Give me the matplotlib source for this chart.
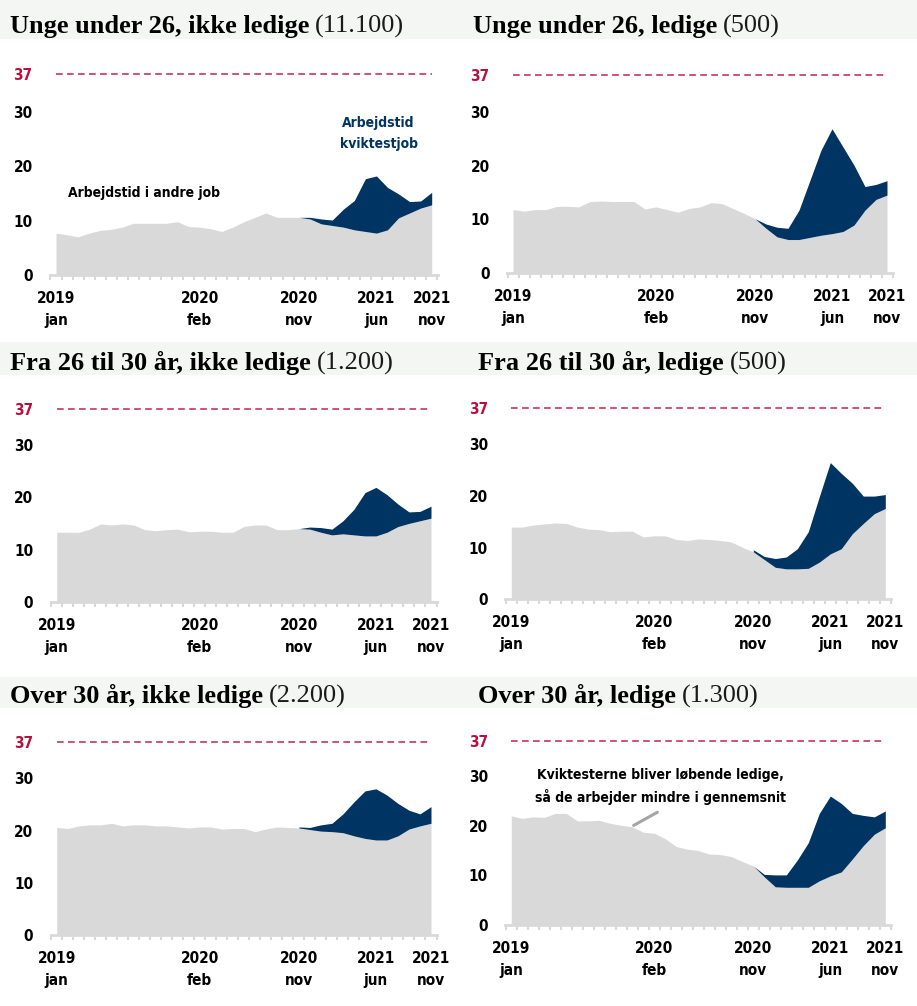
import matplotlib
matplotlib.use("Agg")
import matplotlib.pyplot as plt
import numpy as np
from matplotlib import font_manager as fm
from matplotlib.font_manager import FontProperties
from matplotlib.patches import Rectangle

# ---------------- data ----------------
months = np.arange(35)                       # jan 2019 .. nov 2021
tick_pos = [0, 13, 22, 29, 34]
tick_labels = ["2019\njan", "2020\nfeb", "2020\nnov", "2021\njun", "2021\nnov"]
kvik_start = 22                               # nov 2020

titles_bold = ["Unge under 26, ikke ledige", "Unge under 26, ledige",
               "Fra 26 til 30 år, ikke ledige", "Fra 26 til 30 år, ledige",
               "Over 30 år, ikke ledige", "Over 30 år, ledige"]
titles_n = ["(11.100)", "(500)", "(1.200)", "(500)", "(2.200)", "(1.300)"]

# Arbejdstid i andre job (hours/week), monthly
andre_u26_ikke = [7.7, 7.4, 7.0, 7.7, 8.2, 8.4, 8.8, 9.5, 9.5, 9.5, 9.5, 9.8,
                  8.9, 8.8, 8.5, 8.0, 8.8, 9.8, 10.6, 11.4, 10.6, 10.6, 10.6,
                  10.3, 9.4, 9.1, 8.8, 8.3, 8.0, 7.7, 8.3, 10.5, 11.4, 12.3, 12.9]
andre_u26_led = [11.8, 11.5, 11.8, 11.8, 12.4, 12.4, 12.3, 13.3, 13.4, 13.3, 13.3, 13.3,
                 11.9, 12.3, 11.8, 11.3, 12.0, 12.3, 13.1, 12.9, 12.0, 11.1, 10.1,
                 8.3, 6.7, 6.2, 6.2, 6.6, 7.0, 7.3, 7.7, 8.9, 11.7, 13.7, 14.5]
andre_2630_ikke = [13.3, 13.3, 13.3, 13.9, 14.9, 14.7, 14.9, 14.7, 13.8, 13.6, 13.8, 13.9,
                   13.4, 13.5, 13.5, 13.3, 13.3, 14.4, 14.7, 14.7, 13.8, 13.8, 14.0,
                   13.9, 13.3, 12.8, 13.0, 12.8, 12.6, 12.6, 13.3, 14.4, 15.0, 15.5, 16.0]
andre_2630_led = [14.0, 14.0, 14.4, 14.6, 14.8, 14.7, 14.0, 13.6, 13.5, 13.1, 13.2, 13.2,
                  12.1, 12.3, 12.3, 11.6, 11.4, 11.7, 11.6, 11.4, 11.1, 10.1, 9.2,
                  7.7, 6.2, 5.9, 5.9, 6.0, 7.2, 8.8, 9.8, 12.7, 14.7, 16.6, 17.6]
andre_o30_ikke = [20.6, 20.4, 20.9, 21.1, 21.1, 21.4, 20.9, 21.1, 21.1, 20.9, 20.9, 20.7,
                  20.5, 20.7, 20.7, 20.3, 20.4, 20.4, 19.8, 20.3, 20.7, 20.6, 20.5,
                  20.2, 19.9, 19.8, 19.6, 19.0, 18.5, 18.2, 18.2, 19.0, 20.3, 20.9, 21.4]
andre_o30_led = [22.0, 21.5, 21.8, 21.7, 22.5, 22.5, 21.0, 21.0, 21.1, 20.5, 20.1, 19.8,
                 18.7, 18.5, 17.4, 15.8, 15.3, 15.0, 14.3, 14.2, 13.8, 12.8, 11.9,
                 9.7, 7.7, 7.6, 7.6, 7.6, 8.9, 9.9, 10.7, 13.3, 16.0, 18.3, 19.6]

# Arbejdstid i kviktestjob (hours/week), nov 2020 .. nov 2021
kvik_u26_ikke = [0.0, 0.3, 0.9, 1.0, 3.3, 5.4, 9.7, 10.5, 7.8, 4.4, 2.1, 1.3, 2.3]
kvik_u26_led = [0.0, 0.8, 1.8, 2.1, 5.5, 10.7, 15.9, 19.6, 15.8, 11.2, 4.4, 2.8, 2.7]
kvik_2630_ikke = [0.0, 0.4, 0.9, 1.1, 2.5, 4.9, 8.3, 9.3, 7.2, 4.3, 2.2, 1.8, 2.3]
kvik_2630_led = [0.4, 0.6, 1.7, 2.3, 3.9, 7.1, 12.7, 17.7, 14.6, 9.8, 5.3, 3.4, 2.7]
kvik_o30_ikke = [0.2, 0.4, 1.2, 1.6, 3.6, 6.5, 9.1, 9.8, 8.6, 6.2, 3.6, 2.3, 3.2]
kvik_o30_led = [0.0, 0.5, 2.4, 2.5, 5.5, 9.0, 13.6, 16.1, 13.8, 9.2, 6.1, 3.5, 3.4]

andre_all = [andre_u26_ikke, andre_u26_led, andre_2630_ikke,
             andre_2630_led, andre_o30_ikke, andre_o30_led]
kvik_all = [kvik_u26_ikke, kvik_u26_led, kvik_2630_ikke,
            kvik_2630_led, kvik_o30_ikke, kvik_o30_led]
norm_hours = 37

# ---------------- layout (pixels) ----------------
W, H = 917, 1006
# (x of first month, x of last month, y of zero line, px per hour, title x, title baseline)
layout = [
    (56.0, 431.7, 275.0, 5.44, 10, 33),
    (513.0, 887.0, 272.7, 5.35, 473, 33),
    (56.7, 431.0, 601.7, 5.22, 10, 370),
    (511.3, 885.3, 599.3, 5.16, 478, 370),
    (56.7, 431.0, 935.0, 5.22, 10, 703),
    (511.3, 885.3, 925.0, 4.96, 478, 703),
]
strips = [(0, 39), (342, 375), (677, 708)]
TITLE_SIZE = 19.0

GREY = "#d9d9d9"
NAVY = "#003462"
RED = "#b8103e"
DASH = "#cc4468"


def find_font(cands):
    for f in fm.fontManager.ttflist:
        base = f.fname.split("/")[-1]
        if base in cands:
            return f.fname
    return None


cond = find_font(["DejaVuSansCondensed-Bold.ttf", "LiberationSansNarrow-Bold.ttf"])
if cond:
    TFP = lambda s: FontProperties(fname=cond, size=s)
else:
    TFP = lambda s: FontProperties(family="DejaVu Sans", weight="bold", size=s)

fig = plt.figure(figsize=(W / 100, H / 100), dpi=100)
fig.patch.set_facecolor("white")

for (y0, y1) in strips:
    fig.patches.append(Rectangle((0, 1 - y1 / H), 1, (y1 - y0) / H,
                                 transform=fig.transFigure, facecolor="#f4f6f4",
                                 edgecolor="none", zorder=0))

axes = []
for i, (xa, xb, yz, sc, tx, tb) in enumerate(layout):
    dx = (xb - xa) / 34
    left = xa - 0.55 * dx
    right = xb + 0.55 * dx
    top = yz - 40 * sc
    ax = fig.add_axes([left / W, 1 - yz / H, (right - left) / W, (yz - top) / H])
    ax.set_facecolor("none")
    ax.set_xlim(-0.55, 34.55)
    ax.set_ylim(0, 40)
    andre = np.array(andre_all[i])
    kv = np.zeros(35)
    kv[kvik_start:] = kvik_all[i]
    ax.fill_between(months, 0, andre, color=GREY, lw=0, zorder=2)
    mask = months >= kvik_start
    ax.fill_between(months[mask], andre[mask], andre[mask] + kv[mask],
                    color=NAVY, lw=0, zorder=2)
    ax.plot([0, 34], [norm_hours, norm_hours], color=DASH, lw=1.3,
            dashes=(3.7, 2.4), zorder=3)
    for s in ["top", "right", "left"]:
        ax.spines[s].set_visible(False)
    ax.spines["bottom"].set_color(GREY)
    ax.spines["bottom"].set_linewidth(2)
    ax.spines["bottom"].set_zorder(4)
    ax.set_xticks(tick_pos)
    ax.set_xticklabels(tick_labels, linespacing=1.6)
    ax.set_xticks(np.arange(-0.5, 35, 1), minor=True)
    ax.tick_params(axis="x", which="major", length=0, pad=11.5)
    ax.tick_params(axis="x", which="minor", length=3.5, width=1.5, color=GREY)
    ax.set_yticks([0, 10, 20, 30, norm_hours])
    ax.set_yticklabels(["0", "10", "20", "30", str(norm_hours)])
    ax.tick_params(axis="y", length=0, pad=12.5)
    for lab in ax.get_xticklabels():
        lab.set_fontproperties(TFP(11))
        lab.set_color("black")
    for lab in ax.get_yticklabels():
        lab.set_fontproperties(TFP(11))
    ax.get_yticklabels()[-1].set_color(RED)
    axes.append(ax)

# titles: bold part followed by the count in regular weight
renderer = fig.canvas.get_renderer()
for i, (xa, xb, yz, sc, tx, tb) in enumerate(layout):
    t1 = fig.text(tx / W, 1 - tb / H, titles_bold[i], family="Liberation Serif",
                  weight="bold", size=TITLE_SIZE, va="baseline", ha="left")
    w1 = t1.get_window_extent(renderer).width
    fig.text((tx + w1 + 6) / W, 1 - tb / H, titles_n[i], family="Liberation Serif",
             size=TITLE_SIZE, va="baseline", ha="left", color="#1a1a1a")

# annotations
ax1 = axes[0]
ax1.text(8.0, 15.1, "Arbejdstid i andre job", fontproperties=TFP(10),
         ha="center", va="center", color="black", zorder=5)
ax1.text(29.2, 26.0, "Arbejdstid\nkviktestjob", fontproperties=TFP(10),
         ha="center", va="center", color=NAVY, linespacing=1.65, zorder=5)

ax6 = axes[5]
ax6.text(13.6, 28.0, "Kviktesterne bliver løbende ledige,\nså de arbejder mindre i gennemsnit",
         fontproperties=TFP(10), ha="center", va="center", color="black",
         linespacing=1.55, zorder=5)
ax6.annotate("", xy=(10.9, 19.8), xytext=(13.5, 23.0),
             arrowprops=dict(arrowstyle="-", color="#a6a6a6", lw=2.2), zorder=5)

fig.savefig("out.png", dpi=100, facecolor=fig.get_facecolor())
